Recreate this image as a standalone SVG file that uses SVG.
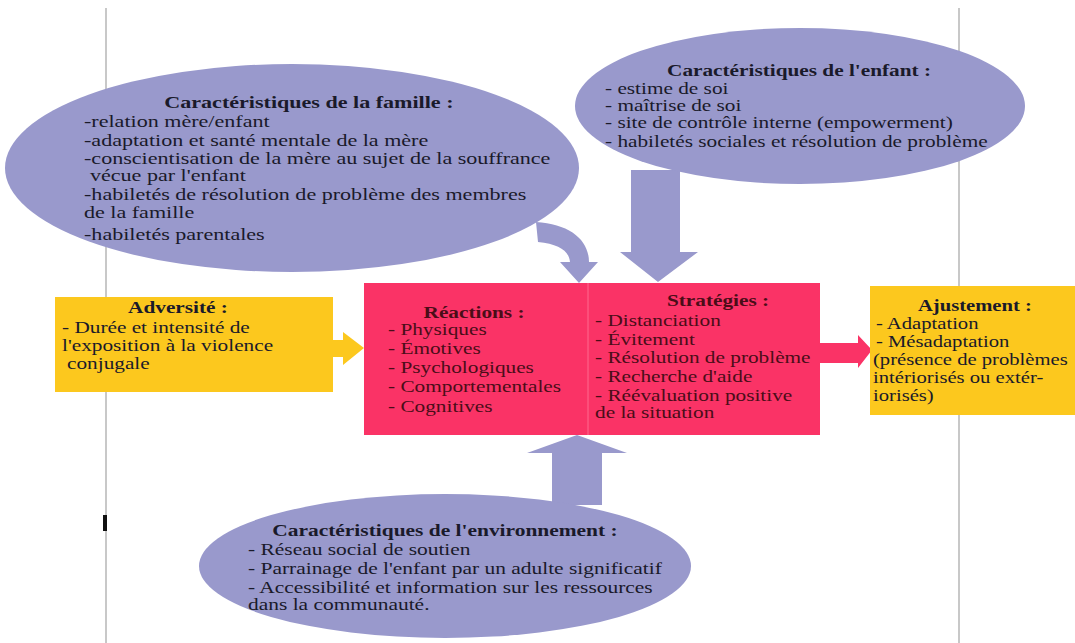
<svg xmlns="http://www.w3.org/2000/svg" width="1075" height="643" viewBox="0 0 1075 643">
<style>
.t{font-family:"Liberation Serif","Times New Roman",serif;font-size:16px;fill:#1a1a2a}
.b{font-weight:bold}
.m{text-anchor:middle}
.r{fill:#4a0d18}
.ell{fill:#9999cc}
.pink{fill:#fa3366}
.yel{fill:#fcc81e}
.guide{stroke:#c8c8c8;stroke-width:2}
</style>
<rect width="1075" height="643" fill="#ffffff"/>
<line class="guide" x1="106" y1="8" x2="106" y2="643"/>
<line class="guide" x1="959" y1="8" x2="959" y2="643"/>
<rect x="103" y="515" width="4" height="16" fill="#111"/>

<g id="connectors">
  <path class="ell" d="M536,222 C570,224 589,240 589,262 L598,262 L579,283 L560,262 L570,262 C569,251 559,244 538,242 Z"/>
  <path class="ell" d="M631,170 L680,170 L680,252 L698,252 L658,282 L620,252 L631,252 Z"/>
  <path class="ell" d="M552,505 L552,453 L527,453 L577,435 L627,453 L602,453 L602,505 Z"/>
  <path class="yel" d="M330,340 L343,340 L343,332 L364,348 L343,365 L343,357 L330,357 Z"/>
  <path class="pink" d="M818,343 L858,343 L858,335 L872,350 L858,368 L858,363 L818,363 Z"/>
</g>

<g id="famille">
  <ellipse class="ell" cx="292" cy="168" rx="287" ry="104"/>
  <g transform="translate(84,0) scale(1.38,1)">
    <text class="t b m" x="163" y="108">Caractéristiques de la famille :</text>
    <text class="t" x="0" y="127">-relation mère/enfant</text>
    <text class="t" x="0" y="146">-adaptation et santé mentale de la mère</text>
    <text class="t" x="0" y="164">-conscientisation de la mère au sujet de la souffrance</text>
    <text class="t" x="4.3" y="181">vécue par l'enfant</text>
    <text class="t" x="0" y="200">-habiletés de résolution de problème des membres</text>
    <text class="t" x="0" y="218">de la famille</text>
    <text class="t" x="0" y="240">-habiletés parentales</text>
  </g>
</g>

<g id="enfant">
  <ellipse class="ell" cx="800" cy="106" rx="225" ry="78"/>
  <g transform="translate(605,0) scale(1.33,1)">
    <text class="t b m" x="145.9" y="76">Caractéristiques de l'enfant :</text>
    <text class="t" x="0" y="94">- estime de soi</text>
    <text class="t" x="0" y="111">- maîtrise de soi</text>
    <text class="t" x="0" y="128">- site de contrôle interne (empowerment)</text>
    <text class="t" x="0" y="147">- habiletés sociales et résolution de problème</text>
  </g>
</g>

<g id="adversite">
  <rect class="yel" x="55" y="297" width="278" height="95"/>
  <g transform="translate(62,0) scale(1.33,1)">
    <text class="t b m" x="87.2" y="313">Adversité :</text>
    <text class="t" x="0" y="333">- Durée et intensité de</text>
    <text class="t" x="0" y="351">l'exposition à la violence</text>
    <text class="t" x="3.8" y="369">conjugale</text>
  </g>
</g>

<g id="reactions-strategies">
  <rect class="pink" x="364" y="283" width="456" height="152"/>
  <line x1="588" y1="283" x2="588" y2="435" stroke="#ff6a8e" stroke-width="1"/>
  <g transform="translate(388,0) scale(1.33,1)">
    <text class="t b m r" x="64.7" y="318">Réactions :</text>
    <text class="t r" x="0" y="335">- Physiques</text>
    <text class="t r" x="0" y="354">- Émotives</text>
    <text class="t r" x="0" y="373">- Psychologiques</text>
    <text class="t r" x="0" y="392">- Comportementales</text>
    <text class="t r" x="0" y="412">- Cognitives</text>
  </g>
  <g transform="translate(595,0) scale(1.33,1)">
    <text class="t b m r" x="92.5" y="306">Stratégies :</text>
    <text class="t r" x="0" y="326">- Distanciation</text>
    <text class="t r" x="0" y="345">- Évitement</text>
    <text class="t r" x="0" y="363">- Résolution de problème</text>
    <text class="t r" x="0" y="382">- Recherche d'aide</text>
    <text class="t r" x="0" y="401">- Réévaluation positive</text>
    <text class="t r" x="0" y="418">de la situation</text>
  </g>
</g>

<g id="ajustement">
  <rect class="yel" x="870" y="286" width="205" height="129"/>
  <g transform="translate(873,0) scale(1.29,1)">
    <text class="t b m" x="79" y="311">Ajustement :</text>
    <text class="t" x="2.3" y="329">- Adaptation</text>
    <text class="t" x="2.3" y="347">- Mésadaptation</text>
    <text class="t" x="0" y="365">(présence de problèmes</text>
    <text class="t" x="0" y="383">intériorisés ou extér-</text>
    <text class="t" x="0" y="401">iorisés)</text>
  </g>
</g>

<g id="environnement">
  <ellipse class="ell" cx="445" cy="566" rx="246" ry="72"/>
  <g transform="translate(248,0) scale(1.34,1)">
    <text class="t b m" x="147" y="536">Caractéristiques de l'environnement :</text>
    <text class="t" x="0" y="555">- Réseau social de soutien</text>
    <text class="t" x="0" y="574">- Parrainage de l'enfant par un adulte significatif</text>
    <text class="t" x="0" y="593">- Accessibilité et information sur les ressources</text>
    <text class="t" x="0" y="610">dans la communauté.</text>
  </g>
</g>
</svg>
